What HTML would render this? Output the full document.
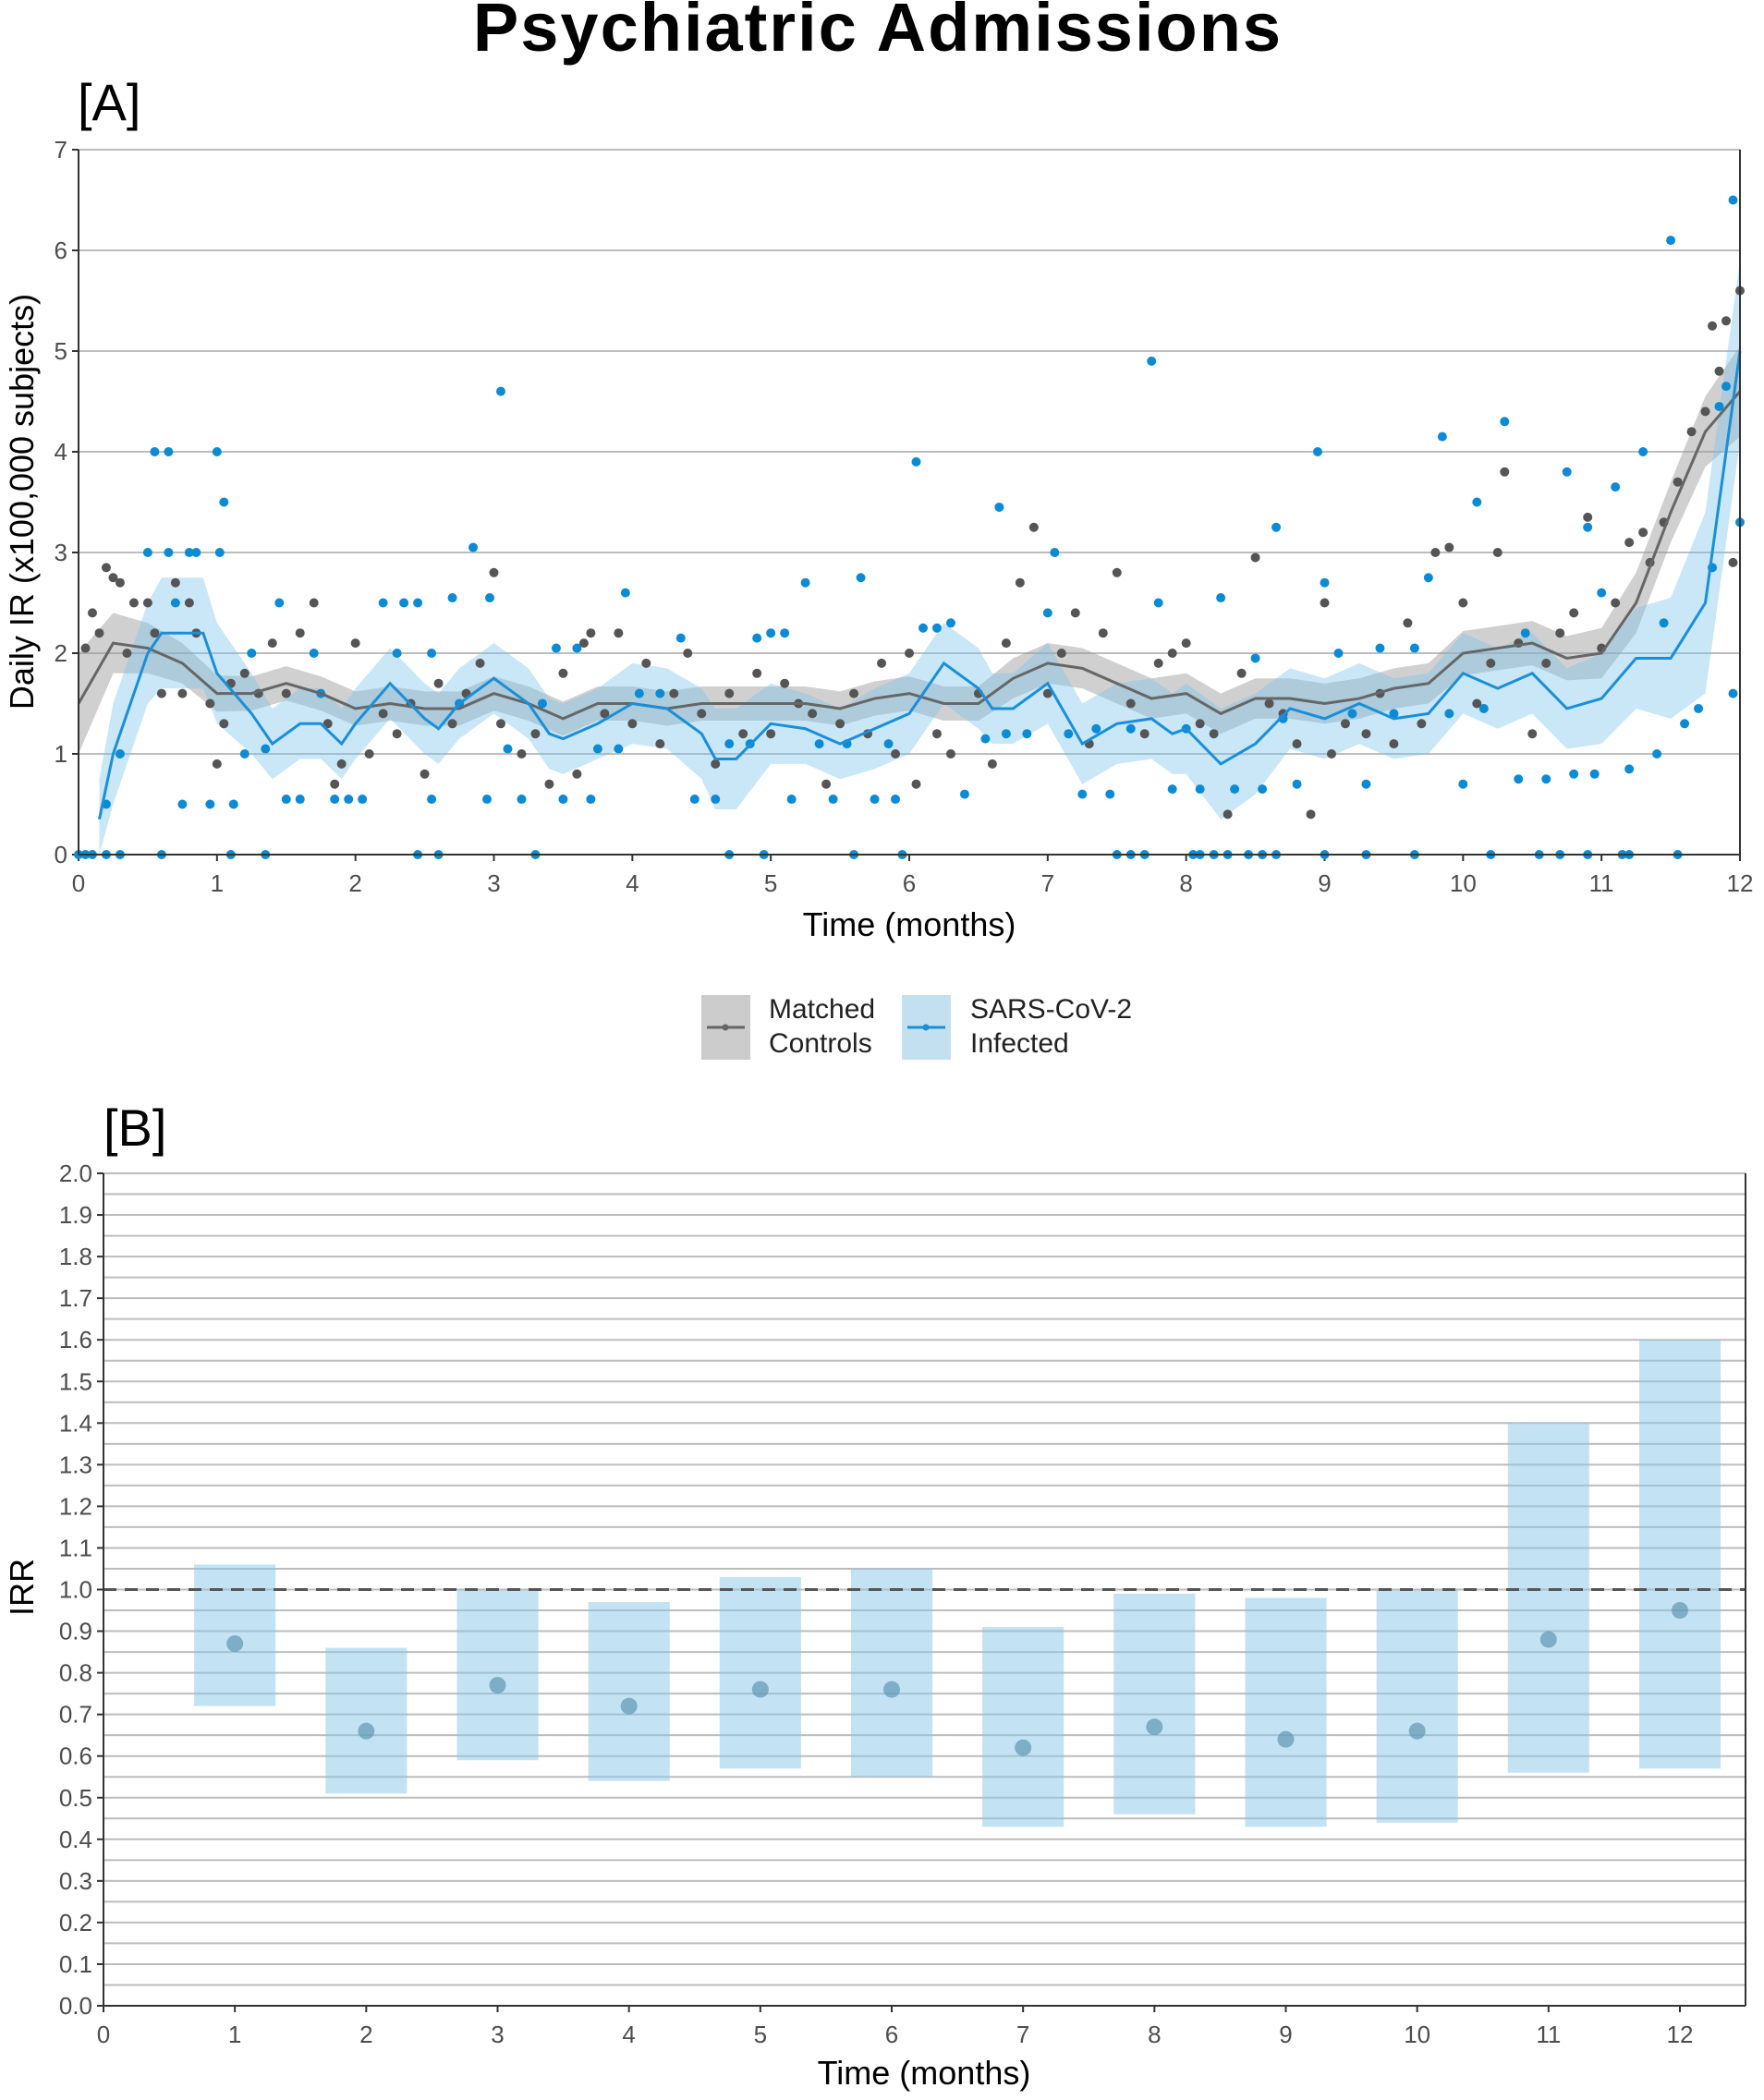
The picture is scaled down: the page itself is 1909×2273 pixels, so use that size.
<!DOCTYPE html>
<html><head><meta charset="utf-8"><style>
html,body{margin:0;padding:0;background:#fff;}
svg{display:block;font-family:"Liberation Sans",sans-serif;}
</style></head><body>
<svg id="fig" width="1909" height="2273" viewBox="0 0 1909 2273">
<text x="950" y="55" text-anchor="middle" font-size="74" font-weight="bold" letter-spacing="2" fill="#000">Psychiatric Admissions</text>
<text x="84" y="130" font-size="56" fill="#000">[A]</text>
<text x="112" y="1240" font-size="56" fill="#000">[B]</text>
<g id="pa"></g>
<g id="pb"></g>
<g>
<g>
<rect x="759" y="1077" width="53" height="70" fill="#cccccc"/>
<line x1="765" y1="1112" x2="806" y2="1112" stroke="#666" stroke-width="3"/>
<circle cx="785" cy="1112" r="3.5" fill="#666"/>
<text x="832" y="1102" font-size="30" fill="#222">Matched</text>
<text x="832" y="1139" font-size="30" fill="#222">Controls</text>
</g>
<g>
<rect x="976" y="1077" width="53" height="70" fill="#c2e0f0"/>
<line x1="982" y1="1112" x2="1023" y2="1112" stroke="#1a8fd8" stroke-width="3"/>
<circle cx="1002" cy="1112" r="3.5" fill="#1a8fd8"/>
<text x="1050" y="1102" font-size="30" fill="#222">SARS-CoV-2</text>
<text x="1050" y="1139" font-size="30" fill="#222">Infected</text>
</g>
</g>
</svg>
<script>
// ---------- Panel A data ----------
const lineT = [0,0.25,0.5,0.75,1,1.25,1.5,1.75,2,2.25,2.5,2.75,3,3.25,3.5,3.75,4,4.25,4.5,4.75,5,5.25,5.5,5.75,6,6.25,6.5,6.75,7,7.25,7.5,7.75,8,8.25,8.5,8.75,9,9.25,9.5,9.75,10,10.25,10.5,10.75,11,11.25,11.5,11.75,12];
const controlLine = [1.5,2.1,2.05,1.9,1.6,1.6,1.7,1.6,1.45,1.5,1.45,1.45,1.6,1.5,1.35,1.5,1.5,1.45,1.5,1.5,1.5,1.5,1.45,1.55,1.6,1.5,1.5,1.75,1.9,1.85,1.7,1.55,1.6,1.4,1.55,1.55,1.5,1.55,1.65,1.7,2.0,2.05,2.1,1.95,2.0,2.5,3.4,4.2,4.6];
const controlHalf = [0.5,0.3,0.25,0.2,0.18,0.17,0.17,0.17,0.17,0.17,0.17,0.17,0.17,0.17,0.17,0.17,0.17,0.17,0.17,0.17,0.17,0.17,0.17,0.17,0.17,0.17,0.17,0.2,0.2,0.2,0.2,0.2,0.2,0.2,0.2,0.2,0.2,0.2,0.2,0.2,0.22,0.22,0.22,0.22,0.25,0.3,0.3,0.35,0.45];
const infT = [0.15,0.25,0.5,0.6,0.9,1,1.25,1.4,1.6,1.75,1.9,2,2.25,2.5,2.6,2.75,3,3.25,3.4,3.5,3.75,4,4.25,4.5,4.6,4.75,5,5.25,5.5,5.75,6,6.25,6.5,6.6,6.75,7,7.25,7.5,7.75,7.9,8,8.25,8.5,8.75,9,9.25,9.5,9.75,10,10.25,10.5,10.75,11,11.25,11.5,11.75,12];
const infLine = [0.35,1.0,2.0,2.2,2.2,1.8,1.4,1.1,1.3,1.3,1.1,1.3,1.7,1.35,1.25,1.5,1.75,1.5,1.2,1.15,1.3,1.5,1.45,1.2,0.95,0.95,1.3,1.25,1.1,1.25,1.4,1.9,1.65,1.45,1.45,1.7,1.1,1.3,1.35,1.2,1.25,0.9,1.1,1.45,1.35,1.5,1.35,1.4,1.8,1.65,1.8,1.45,1.55,1.95,1.95,2.5,5.0];
const infHalf = [0.4,0.5,0.5,0.55,0.55,0.5,0.4,0.35,0.35,0.35,0.35,0.35,0.35,0.35,0.35,0.35,0.35,0.35,0.35,0.35,0.35,0.4,0.4,0.45,0.5,0.5,0.4,0.35,0.35,0.4,0.4,0.4,0.4,0.35,0.35,0.4,0.4,0.4,0.4,0.4,0.45,0.55,0.5,0.4,0.4,0.4,0.4,0.4,0.4,0.4,0.4,0.4,0.45,0.5,0.6,0.9,0.9];
const controlPts = [[0.05,2.05],[0.1,2.4],[0.15,2.2],[0.2,2.85],[0.25,2.75],[0.3,2.7],[0.35,2.0],[0.4,2.5],[0.5,2.5],[0.55,2.2],[0.6,1.6],[0.7,2.7],[0.75,1.6],[0.8,2.5],[0.85,2.2],[0.95,1.5],[1.0,0.9],[1.05,1.3],[1.1,1.7],[1.2,1.8],[1.3,1.6],[1.4,2.1],[1.5,1.6],[1.6,2.2],[1.7,2.5],[1.8,1.3],[1.85,0.7],[1.9,0.9],[2.0,2.1],[2.1,1.0],[2.2,1.4],[2.3,1.2],[2.4,1.5],[2.5,0.8],[2.6,1.7],[2.7,1.3],[2.8,1.6],[2.9,1.9],[3.0,2.8],[3.05,1.3],[3.2,1.0],[3.3,1.2],[3.4,0.7],[3.5,1.8],[3.6,0.8],[3.65,2.1],[3.7,2.2],[3.8,1.4],[3.9,2.2],[4.0,1.3],[4.1,1.9],[4.2,1.1],[4.3,1.6],[4.4,2.0],[4.5,1.4],[4.6,0.9],[4.7,1.6],[4.8,1.2],[4.9,1.8],[5.0,1.2],[5.1,1.7],[5.2,1.5],[5.3,1.4],[5.4,0.7],[5.5,1.3],[5.6,1.6],[5.7,1.2],[5.8,1.9],[5.9,1.0],[6.0,2.0],[6.05,0.7],[6.2,1.2],[6.3,1.0],[6.5,1.6],[6.6,0.9],[6.7,2.1],[6.8,2.7],[6.9,3.25],[7.0,1.6],[7.1,2.0],[7.2,2.4],[7.3,1.1],[7.4,2.2],[7.5,2.8],[7.6,1.5],[7.7,1.2],[7.8,1.9],[7.9,2.0],[8.0,2.1],[8.1,1.3],[8.2,1.2],[8.3,0.4],[8.4,1.8],[8.5,2.95],[8.6,1.5],[8.7,1.4],[8.8,1.1],[8.9,0.4],[9.0,2.5],[9.05,1.0],[9.15,1.3],[9.3,1.2],[9.4,1.6],[9.5,1.1],[9.6,2.3],[9.7,1.3],[9.8,3.0],[9.9,3.05],[10.0,2.5],[10.1,1.5],[10.2,1.9],[10.25,3.0],[10.3,3.8],[10.4,2.1],[10.5,1.2],[10.6,1.9],[10.7,2.2],[10.8,2.4],[10.9,3.35],[11.0,2.05],[11.1,2.5],[11.2,3.1],[11.3,3.2],[11.35,2.9],[11.45,3.3],[11.55,3.7],[11.65,4.2],[11.75,4.4],[11.8,5.25],[11.9,5.3],[12.0,5.6],[11.95,2.9],[11.85,4.8]];
const infPts = [[0,0],[0.05,0],[0.1,0],[0.2,0],[0.3,0],[0.6,0],[1.1,0],[1.35,0],[2.45,0],[2.6,0],[3.3,0],[4.7,0],[4.95,0],[5.6,0],[5.95,0],[7.5,0],[7.6,0],[7.7,0],[8.05,0],[8.1,0],[8.2,0],[8.3,0],[8.45,0],[8.55,0],[8.65,0],[9.0,0],[9.3,0],[9.65,0],[10.2,0],[10.55,0],[10.7,0],[10.9,0],[11.15,0],[11.2,0],[11.55,0],[0.2,0.5],[0.3,1.0],[0.5,3.0],[0.55,4.0],[0.65,4.0],[0.65,3.0],[0.7,2.5],[0.75,0.5],[0.8,3.0],[0.85,3.0],[0.95,0.5],[1.0,4.0],[1.02,3.0],[1.05,3.5],[1.12,0.5],[1.2,1.0],[1.25,2.0],[1.35,1.05],[1.45,2.5],[1.5,0.55],[1.6,0.55],[1.7,2.0],[1.75,1.6],[1.85,0.55],[1.95,0.55],[2.05,0.55],[2.2,2.5],[2.3,2.0],[2.35,2.5],[2.45,2.5],[2.55,2.0],[2.55,0.55],[2.7,2.55],[2.75,1.5],[2.95,0.55],[2.97,2.55],[3.05,4.6],[2.85,3.05],[3.1,1.05],[3.2,0.55],[3.35,1.5],[3.45,2.05],[3.5,0.55],[3.6,2.05],[3.7,0.55],[3.75,1.05],[3.9,1.05],[3.95,2.6],[4.05,1.6],[4.2,1.6],[4.35,2.15],[4.45,0.55],[4.6,0.55],[4.7,1.1],[4.85,1.1],[4.9,2.15],[5.0,2.2],[5.1,2.2],[5.15,0.55],[5.25,2.7],[5.35,1.1],[5.45,0.55],[5.55,1.1],[5.65,2.75],[5.75,0.55],[5.85,1.1],[5.9,0.55],[6.05,3.9],[6.1,2.25],[6.2,2.25],[6.3,2.3],[6.4,0.6],[6.55,1.15],[6.65,3.45],[6.7,1.2],[6.85,1.2],[7.0,2.4],[7.05,3.0],[7.15,1.2],[7.25,0.6],[7.35,1.25],[7.45,0.6],[7.6,1.25],[7.75,4.9],[7.8,2.5],[7.9,0.65],[8.0,1.25],[8.1,0.65],[8.25,2.55],[8.35,0.65],[8.5,1.95],[8.55,0.65],[8.65,3.25],[8.7,1.35],[8.8,0.7],[8.95,4.0],[9.0,2.7],[9.1,2.0],[9.2,1.4],[9.3,0.7],[9.4,2.05],[9.5,1.4],[9.65,2.05],[9.75,2.75],[9.85,4.15],[9.9,1.4],[10.0,0.7],[10.1,3.5],[10.15,1.45],[10.3,4.3],[10.4,0.75],[10.45,2.2],[10.6,0.75],[10.75,3.8],[10.8,0.8],[10.9,3.25],[10.95,0.8],[11.0,2.6],[11.1,3.65],[11.2,0.85],[11.3,4.0],[11.4,1.0],[11.45,2.3],[11.5,6.1],[11.6,1.3],[11.7,1.45],[11.8,2.85],[11.85,4.45],[11.9,4.65],[11.95,6.5],[12.0,3.3],[11.95,1.6]];
const aYTicks = [0,1,2,3,4,5,6,7];
const aXTicks = [0,1,2,3,4,5,6,7,8,9,10,11,12];
// ---------- Panel B data ----------
const months = [1,2,3,4,5,6,7,8,9,10,11,12];
const irrEst = [0.87,0.66,0.77,0.72,0.76,0.76,0.62,0.67,0.64,0.66,0.88,0.95];
const irrLo = [0.72,0.51,0.59,0.54,0.57,0.55,0.43,0.46,0.43,0.44,0.56,0.57];
const irrHi = [1.06,0.86,1.00,0.97,1.03,1.05,0.91,0.99,0.98,1.00,1.40,1.60];
const bYTicks = ["0.0","0.1","0.2","0.3","0.4","0.5","0.6","0.7","0.8","0.9","1.0","1.1","1.2","1.3","1.4","1.5","1.6","1.7","1.8","1.9","2.0"];
const bXTicks = [0,1,2,3,4,5,6,7,8,9,10,11,12];

const NS="http://www.w3.org/2000/svg";
function mk(tag,attrs,parent){const e=document.createElementNS(NS,tag);for(const k in attrs)e.setAttribute(k,attrs[k]);parent.appendChild(e);return e;}

// Panel A
(function(){
const g=document.getElementById('pa');
const L=85,R=1883,T=162,B=925;
const x=t=>L+(R-L)*t/12, y=v=>B-(B-T)*v/7;
aYTicks.forEach(v=>{
 const gl=mk('line',{x1:L,x2:R,y1:y(v),y2:y(v),stroke:'#bdbdbd','stroke-width':2},g);
 
 mk('line',{x1:L-7,x2:L,y1:y(v),y2:y(v),stroke:'#333','stroke-width':2},g);
 const tx=mk('text',{x:L-12,y:y(v)+9,'text-anchor':'end','font-size':26,fill:'#4d4d4d'},g);tx.textContent=v;
 
});
aXTicks.forEach(v=>{
 mk('line',{x1:x(v),x2:x(v),y1:B,y2:B+7,stroke:'#333','stroke-width':2},g);
 const tx=mk('text',{x:x(v),y:B+40,'text-anchor':'middle','font-size':26,fill:'#4d4d4d'},g);tx.textContent=v;
 
});
function ribbon(ts,m,h,fill,name){
 let d='M'+ts.map((t,i)=>x(t)+','+y(m[i]+h[i])).join('L');
 for(let i=ts.length-1;i>=0;i--)d+='L'+x(ts[i])+','+y(Math.max(0,m[i]-h[i]));
 const p=mk('path',{d:d+'Z',fill:fill},g);
}
function line(ts,m,col,name){
 const p=mk('path',{d:'M'+ts.map((t,i)=>x(t)+','+y(m[i])).join('L'),fill:'none',stroke:col,'stroke-width':3},g);
 
}
ribbon(lineT,controlLine,controlHalf,'rgba(150,150,150,0.45)','controls-ci-ribbon');
ribbon(infT,infLine,infHalf,'rgba(120,195,235,0.4)','infected-ci-ribbon');
controlPts.forEach(p=>{const c=mk('circle',{cx:x(p[0]),cy:y(p[1]),r:5,fill:'#555'},g);
 });
infPts.forEach(p=>{const c=mk('circle',{cx:x(p[0]),cy:y(p[1]),r:5,fill:'#0b8bd6'},g);
 });
line(lineT,controlLine,'#666','controls-smooth-line');
line(infT,infLine,'#1a8fd8','infected-smooth-line');
mk('line',{x1:L,x2:L,y1:T,y2:B,stroke:'#333','stroke-width':2},g);
mk('line',{x1:L,x2:R,y1:B,y2:B,stroke:'#333','stroke-width':2},g);
mk('line',{x1:R,x2:R,y1:T,y2:B,stroke:'#333','stroke-width':2},g);
const xt=mk('text',{x:984,y:1013,'text-anchor':'middle','font-size':36,fill:'#000'},g);xt.textContent='Time (months)';

const yt=mk('text',{x:0,y:0,'text-anchor':'middle','font-size':36,fill:'#000',transform:'translate(36,543) rotate(-90)'},g);yt.textContent='Daily IR (x100,000 subjects)';

})();

// Panel B
(function(){
const g=document.getElementById('pb');
const L=112,R=1889,T=1270,B=2171,X12=1818;
const x=t=>L+(X12-L)*t/12, y=v=>B-(B-T)*v/2;
for(let i=0;i<=40;i++){const v=i*0.05;
 const gl=mk('line',{x1:L,x2:R,y1:y(v),y2:y(v),stroke:'#bdbdbd','stroke-width':2},g);
 }
bYTicks.forEach(s=>{const v=parseFloat(s);
 mk('line',{x1:L-7,x2:L,y1:y(v),y2:y(v),stroke:'#333','stroke-width':2},g);
 const tx=mk('text',{x:L-12,y:y(v)+9,'text-anchor':'end','font-size':26,fill:'#4d4d4d'},g);tx.textContent=s;
 
});
bXTicks.forEach(v=>{
 mk('line',{x1:x(v),x2:x(v),y1:B,y2:B+7,stroke:'#333','stroke-width':2},g);
 const tx=mk('text',{x:x(v),y:B+40,'text-anchor':'middle','font-size':26,fill:'#4d4d4d'},g);tx.textContent=v;
 
});
const bw=(X12-L)/12*0.62;
months.forEach((m,i)=>{
 const r=mk('rect',{x:x(m)-bw/2,y:y(irrHi[i]),width:bw,height:y(irrLo[i])-y(irrHi[i]),fill:'rgba(135,200,235,0.5)'},g);
 
});
const ref=mk('line',{x1:L,x2:R,y1:y(1),y2:y(1),stroke:'#555','stroke-width':3,'stroke-dasharray':'14,9'},g);

months.forEach((m,i)=>{
 const c=mk('circle',{cx:x(m),cy:y(irrEst[i]),r:9,fill:'rgba(95,150,180,0.7)'},g);
 
});
mk('line',{x1:L,x2:L,y1:T,y2:B,stroke:'#333','stroke-width':2},g);
mk('line',{x1:L,x2:R,y1:B,y2:B,stroke:'#333','stroke-width':2},g);
mk('line',{x1:R,x2:R,y1:T,y2:B,stroke:'#333','stroke-width':2},g);
const xt=mk('text',{x:1000,y:2256,'text-anchor':'middle','font-size':36,fill:'#000'},g);xt.textContent='Time (months)';

const yt=mk('text',{x:0,y:0,'text-anchor':'middle','font-size':36,fill:'#000',transform:'translate(36,1718) rotate(-90)'},g);yt.textContent='IRR';

})();
</script>
</body></html>
